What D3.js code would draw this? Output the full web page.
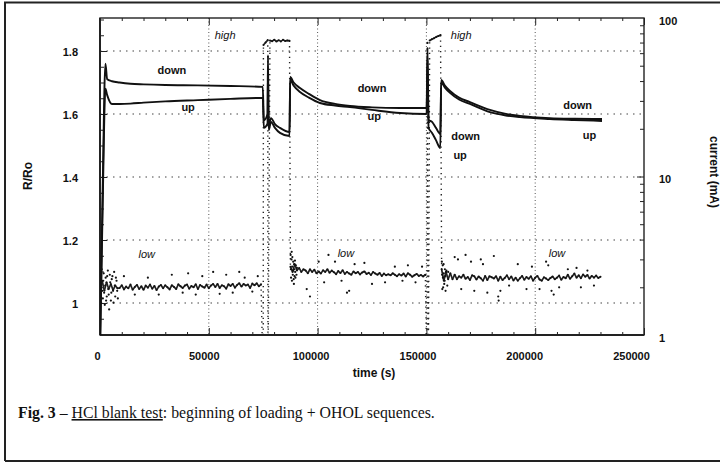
<!DOCTYPE html>
<html>
<head>
<meta charset="utf-8">
<script src="https://cdn.jsdelivr.net/npm/d3@7"></script>
<style>
  html, body { margin: 0; padding: 0; background: #fff; }
  svg { display: block; }
  text { font-family: "Liberation Sans", Arial, Helvetica, sans-serif; fill: #111; }
</style>
</head>
<body>
<svg id="chart" width="720" height="463"></svg>
<script>
// ---------------- DATA ----------------
// Time axis ticks (s)
const xTickLabels = [0, 50000, 100000, 150000, 200000, 250000];
const xGrid = [50000, 100000, 150000, 200000];
// Left axis (R/Ro)
const yLeftLabels = [1, 1.2, 1.4, 1.6, 1.8];
// Right axis (current, mA, log)
const yRightLabels = [1, 10, 100];

// R/Ro curves: time (s), "down" and "up" sensors
const rrTime = [0, 1200, 2500, 3300, 5500, 9000, 14000, 20000, 30000, 45000, 60000, 74800,
  75300, 77000, 77200, 77500, 78600, 80400, 82700, 87100,
  87400, 89000, 91900, 96000, 101100, 108000, 114900, 125000, 137900, 150100,
  150500, 151000, 152600, 154400, 156400,
  156800, 158500, 160850, 165000, 170000, 179200, 186000, 193000, 206800, 218000, 230700];
const rrDown = [0.85, 1.35, 1.76, 1.71, 1.704, 1.70, 1.696, 1.694, 1.692, 1.691, 1.689, 1.686,
  1.58, 1.60, 1.787, 1.565, 1.587, 1.568, 1.556, 1.543,
  1.7175, 1.70, 1.6825, 1.664, 1.6444, 1.632, 1.6254, 1.621, 1.619, 1.619,
  1.81, 1.581, 1.575, 1.556, 1.537,
  1.708, 1.69, 1.673, 1.652, 1.638, 1.613, 1.601, 1.594, 1.587, 1.585, 1.584];
const rrUp = [0.85, 1.30, 1.68, 1.66, 1.632, 1.632, 1.633, 1.636, 1.640, 1.644, 1.648, 1.651,
  1.556, 1.57, 1.74, 1.549, 1.575, 1.556, 1.54, 1.530,
  1.708, 1.69, 1.670, 1.652, 1.635, 1.627, 1.622, 1.613, 1.603, 1.600,
  1.771, 1.556, 1.54, 1.517, 1.492,
  1.70, 1.684, 1.667, 1.646, 1.632, 1.606, 1.596, 1.590, 1.584, 1.581, 1.578];

// Current (mA): main trace, sampled every 1000 s inside each segment
const lowStart1 = 0;
const currentLow1 = [1.85, 2.2, 1.9, 2.15, 1.95, 2.1, 1.92, 2.05, 1.97,
  1.98, 2.06, 1.94, 2.02, 1.97, 2.08, 1.93, 2.01, 2.07, 1.95,
  2.03, 1.93, 2.05, 1.99, 2.08, 1.96, 2.04, 1.92, 2.02, 2.07,
  1.97, 2.06, 2.00, 1.94, 2.06, 2.01, 1.95, 2.09, 2.03, 1.98,
  2.05, 2.08, 1.96, 2.04, 2.00, 2.09, 1.95, 2.07, 2.02, 1.99,
  2.08, 1.97, 2.05, 2.10, 2.01, 2.10, 1.98, 2.06, 2.03, 1.96,
  2.09, 2.04, 2.10, 1.99, 2.07, 2.12, 2.02, 2.10, 2.05, 2.08,
  1.98, 2.11, 2.06, 2.12, 2.03, 2.09];
const highStart1 = 75100;
const currentHigh1 = [67.6, 70.0, 72.6, 72.0, 71.4, 73.0, 71.0, 72.5, 71.2, 72.8, 71.5, 72.2, 71.8];
const lowStart2 = 87500;
const currentLow2 = [2.7, 2.5, 2.8, 2.55, 2.65, 2.5, 2.6, 2.55, 2.45, 2.6,
  2.5, 2.58, 2.45, 2.52, 2.44, 2.56, 2.5, 2.6, 2.47, 2.55,
  2.49, 2.42, 2.53, 2.46, 2.56, 2.43, 2.5, 2.44, 2.4, 2.52,
  2.45, 2.5, 2.41, 2.48, 2.52, 2.43, 2.47, 2.39, 2.5, 2.44,
  2.4, 2.46, 2.36, 2.44, 2.38, 2.42, 2.38, 2.45, 2.4, 2.35,
  2.42, 2.37, 2.44, 2.34, 2.45, 2.4, 2.33, 2.38, 2.43, 2.36,
  2.39, 2.34, 2.4];
const highStart2 = 150500;
const currentHigh2 = [69.9, 72.0, 73.5, 74.5, 76.0, 77.0, 78.0];
const lowStart3 = 157000;
const currentLow3 = [2.6, 2.2, 2.5, 2.25, 2.45, 2.25, 2.4, 2.25, 2.35, 2.3,
  2.4, 2.26, 2.32, 2.22, 2.38, 2.35, 2.24, 2.34, 2.28, 2.2,
  2.36, 2.22, 2.35, 2.31, 2.27, 2.35, 2.2, 2.33, 2.22, 2.29,
  2.38, 2.25, 2.34, 2.21, 2.3, 2.2, 2.28, 2.36, 2.23, 2.32,
  2.26, 2.35, 2.2, 2.3, 2.36, 2.24, 2.2, 2.31, 2.27, 2.22,
  2.29, 2.34, 2.25, 2.3, 2.37, 2.23, 2.32, 2.28, 2.4, 2.26,
  2.35, 2.44, 2.3, 2.38, 2.28, 2.41, 2.33, 2.39, 2.27, 2.36,
  2.3, 2.37, 2.29, 2.33];
// scattered individual current readings [t (s), mA]
const currentDots = [
  [300,2.1],[500,1.6],[800,2.6],[1000,1.9],[1300,1.7],[1500,2.2],[1700,2.45],[1900,1.85],[2200,1.55],
  [2400,2.05],[2600,2.3],[2800,1.65],[3100,1.75],[3300,2.35],[3600,2.55],[3800,1.95],[4000,1.8],
  [4200,1.45],[4500,2.4],[4700,2.15],[5000,1.65],[5200,1.85],[5400,2.25],[5700,2.35],[6000,1.9],
  [6200,1.6],[6500,2.5],[6800,2.05],[7000,1.75],[7300,2.3],[7600,2.2],[7900,1.9],[8200,1.7],
  [11000,2.35],[16000,1.8],[22000,2.3],[27000,1.8],[33000,2.4],[38000,1.85],[40500,2.45],[44000,1.8],
  [47000,2.35],[52000,2.5],[55000,1.82],[58000,2.4],[61000,1.85],[64000,2.5],[66500,2.3],[70000,1.88],[72500,2.35],
  [87600,3.2],[87700,2.6],[87800,2.3],[88000,3.0],[88100,3.35],[88200,2.2],[88300,2.7],[88400,3.1],[88600,2.4],
  [88700,2.55],[88800,2.9],[89000,2.25],[89100,2.1],[89200,2.8],[89300,2.6],[89400,2.35],[89600,2.95],
  [89700,2.5],[89800,2.3],[90000,2.75],[90300,2.4],[90500,2.65],
  [95000,1.95],[96500,1.75],[100500,2.9],[103000,2.15],[105000,3.2],[108000,2.9],[111000,2.2],[113500,1.85],
  [114500,1.9],[117000,2.8],[121500,2.85],[125000,2.1],[131000,2.15],[135500,2.7],[139000,2.2],[141500,2.75],
  [145000,2.15],[148000,2.7],
  [157100,2.9],[157200,2.4],[157300,1.95],[157500,2.75],[157600,2.3],[157700,2.0],[157900,2.8],[158000,2.45],
  [158200,2.1],[158400,2.2],[158500,2.6],[158700,2.35],[158800,1.9],[159000,2.5],[159200,2.55],[159600,2.05],[160000,2.5],
  [163000,3.1],[164500,3.0],[166000,1.95],[168000,3.2],[170500,2.9],[172000,1.9],[175000,3.0],[176000,2.8],
  [178000,1.85],[181000,3.15],[183000,1.75],[183200,1.65],[184000,1.9],[188000,2.05],[192000,2.8],[196000,1.95],
  [198500,2.7],[202000,1.95],[205000,2.9],[206000,2.75],[207500,1.9],[208500,1.8],[211000,2.0],[215000,2.6],
  [219000,2.65],[221000,2.0],[224000,2.55],[227000,2.05]
];
// moments where the supply switches (current reads ~0, off scale)
const switchOffTimes = [75000, 77200, 150300, 150900];
const switchOffValue = 0.5;

// annotation labels
const sensorLabels = [
  {text: "down", t: 33000, v: 1.74}, {text: "up", t: 40500, v: 1.623},
  {text: "down", t: 125000, v: 1.683}, {text: "up", t: 126000, v: 1.593},
  {text: "down", t: 168000, v: 1.53}, {text: "up", t: 165500, v: 1.47},
  {text: "down", t: 219500, v: 1.627}, {text: "up", t: 225000, v: 1.534}
];
const modeLabels = [
  {text: "high", t: 57500, i: 78}, {text: "high", t: 166000, i: 78},
  {text: "low", t: 21500, i: 3.25}, {text: "low", t: 113000, i: 3.3}, {text: "low", t: 210000, i: 3.3}
];

// ---------------- CHART ----------------
const svg = d3.select("#chart");
const L = 100, R = 644, T = 18, B = 335;

const x = d3.scaleLinear().domain([0, 250000]).range([L, R]);
const xLab = d3.scaleLinear().domain([0, 250000]).range([97, 631]);
const yL = d3.scaleLinear().domain([0.8984, 1.9048]).range([B, T]);
const yR = d3.scaleLog().domain([1, 100]).range([B, T]);

// outer figure border
svg.append("path")
  .attr("d", "M5,461 V2.5 H722 M5,461 H722")
  .attr("fill", "none").attr("stroke", "#222").attr("stroke-width", 2);

// clip
svg.append("defs").append("clipPath").attr("id", "clip")
  .append("rect").attr("x", L).attr("y", T).attr("width", R - L).attr("height", B - T);

// grid
const grid = svg.append("g");
grid.selectAll(".hg").data(yLeftLabels).join("line")
  .attr("x1", L).attr("x2", R).attr("y1", d => yL(d)).attr("y2", d => yL(d))
  .attr("stroke", "#444").attr("stroke-width", 1.2).attr("stroke-dasharray", "1.5,5");
grid.selectAll(".vg").data(xGrid).join("line")
  .attr("x1", d => x(d)).attr("x2", d => x(d)).attr("y1", T).attr("y2", B)
  .attr("stroke", "#555").attr("stroke-width", 1).attr("stroke-dasharray", "1,2.5");

// tick marks
function ticks(axisGen, tr) {
  const g = svg.append("g").attr("transform", tr).call(axisGen);
  g.select(".domain").remove();
  g.selectAll("line").attr("stroke", "#222").attr("stroke-width", 1);
  g.selectAll("text").remove();
  return g;
}
const xMinor = d3.range(0, 250001, 10000).filter(d => d % 50000 !== 0);
const xMajor = d3.range(0, 250001, 50000);
ticks(d3.axisBottom(x).tickValues(xMinor).tickSize(-3), `translate(0,${B})`);
ticks(d3.axisBottom(x).tickValues(xMajor).tickSize(-7), `translate(0,${B})`);
ticks(d3.axisTop(x).tickValues(xMinor).tickSize(-3), `translate(0,${T})`);
ticks(d3.axisTop(x).tickValues(xMajor).tickSize(-7), `translate(0,${T})`);
const yMinor = d3.range(0.9, 1.91, 0.05).filter(d => Math.abs(d * 5 - Math.round(d * 5)) > 1e-6);
ticks(d3.axisLeft(yL).tickValues(yMinor).tickSize(-4), `translate(${L},0)`);
ticks(d3.axisLeft(yL).tickValues(yLeftLabels).tickSize(-7), `translate(${L},0)`);
const rMinor = [2,3,4,5,6,7,8,9,20,30,40,50,60,70,80,90];
ticks(d3.axisRight(yR).tickValues(rMinor).tickSize(-4), `translate(${R},0)`);
ticks(d3.axisRight(yR).tickValues([10]).tickSize(-7), `translate(${R},0)`);

// frame
svg.append("rect").attr("x", L).attr("y", T).attr("width", R - L).attr("height", B - T)
  .attr("fill", "none").attr("stroke", "#222").attr("stroke-width", 1.4);
svg.append("line").attr("x1", L).attr("x2", R).attr("y1", B).attr("y2", B)
  .attr("stroke", "#222").attr("stroke-width", 2.2);
svg.append("line").attr("x1", L).attr("x2", L).attr("y1", T).attr("y2", B)
  .attr("stroke", "#222").attr("stroke-width", 2);

// tick labels
function labels(axisGen, tr, dy) {
  const g = svg.append("g").attr("transform", tr).call(axisGen);
  g.select(".domain").remove();
  g.selectAll("line").remove();
  g.selectAll("text").attr("font-size", 11).attr("font-weight", "bold")
    .attr("font-family", "'Liberation Sans', Arial, sans-serif").attr("fill", "#111");
  if (dy) g.selectAll("text").attr("transform", `translate(0,${dy})`);
  return g;
}
labels(d3.axisBottom(xLab).tickValues(xTickLabels).tickSize(0).tickPadding(17).tickFormat(d3.format("d")), `translate(0,${B})`);
labels(d3.axisLeft(yL).tickValues(yLeftLabels).tickSize(0).tickPadding(22).tickFormat(d3.format("~g")), `translate(${L},0)`, 1);
labels(d3.axisRight(yR).tickValues(yRightLabels).tickSize(0).tickPadding(15).tickFormat(d3.format("d")), `translate(${R},0)`, 2.5);

// axis titles
svg.append("text").attr("transform", "translate(32,176) rotate(-90)")
  .attr("text-anchor", "middle").attr("font-size", 12).attr("font-weight", "bold").attr("fill", "#111").text("R/Ro");
svg.append("text").attr("transform", "translate(710,172) rotate(90)")
  .attr("text-anchor", "middle").attr("font-size", 12).attr("font-weight", "bold").attr("fill", "#111").text("current (mA)");
svg.append("text").attr("x", 374).attr("y", 377)
  .attr("text-anchor", "middle").attr("font-size", 12).attr("font-weight", "bold").attr("fill", "#111").text("time (s)");

// data layer
const plot = svg.append("g").attr("clip-path", "url(#clip)");

// current series
const cur = [];
function addSeg(start, vals) { vals.forEach((v, i) => cur.push({t: start + i * 1000, i: v})); }
addSeg(lowStart1, currentLow1);
addSeg(highStart1, currentHigh1);
addSeg(lowStart2, currentLow2);
addSeg(highStart2, currentHigh2);
addSeg(lowStart3, currentLow3);
switchOffTimes.forEach(t => cur.push({t: t, i: switchOffValue}));
cur.sort((a, b) => a.t - b.t);

const segs = [];
for (let k = 1; k < cur.length; k++) segs.push([cur[k - 1], cur[k]]);
const isJump = s => Math.abs(yR(s[0].i) - yR(s[1].i)) > 25;
plot.selectAll(".cs").data(segs.filter(s => !isJump(s))).join("line")
  .attr("x1", s => x(s[0].t)).attr("y1", s => yR(s[0].i))
  .attr("x2", s => x(s[1].t)).attr("y2", s => yR(s[1].i))
  .attr("stroke", "#222").attr("stroke-width", 1.7);
plot.selectAll(".cj").data(segs.filter(isJump)).join("line")
  .attr("x1", s => x(s[0].t)).attr("y1", s => yR(s[0].i))
  .attr("x2", s => x(s[1].t)).attr("y2", s => yR(s[1].i))
  .attr("stroke", "#222").attr("stroke-width", 1.4).attr("stroke-dasharray", "1.3,4");
plot.selectAll(".cp").data(cur).join("circle")
  .attr("cx", d => x(d.t)).attr("cy", d => yR(d.i)).attr("r", 1).attr("fill", "#111");
plot.selectAll(".cd").data(currentDots).join("circle")
  .attr("cx", d => x(d[0])).attr("cy", d => yR(d[1])).attr("r", 1.1).attr("fill", "#111");

// R/Ro lines
const rrLine = vals => d3.line().curve(d3.curveMonotoneX)
  .x((d, k) => x(rrTime[k])).y(d => yL(d))(vals);
plot.append("path").attr("d", rrLine(rrDown)).attr("fill", "none")
  .attr("stroke", "#111").attr("stroke-width", 1.9);
plot.append("path").attr("d", rrLine(rrUp)).attr("fill", "none")
  .attr("stroke", "#111").attr("stroke-width", 1.9);

// annotations
svg.selectAll(".sl").data(sensorLabels).join("text")
  .attr("x", d => x(d.t)).attr("y", d => yL(d.v)).attr("dy", "0.35em")
  .attr("text-anchor", "middle").attr("font-size", 11).attr("font-weight", "bold").attr("fill", "#111")
  .text(d => d.text);
svg.selectAll(".ml").data(modeLabels).join("text")
  .attr("x", d => x(d.t)).attr("y", d => yR(d.i)).attr("dy", "0.35em")
  .attr("text-anchor", "middle").attr("font-size", 11).attr("font-style", "italic").attr("fill", "#111")
  .text(d => d.text);

// caption
const cap = svg.append("text").attr("x", 18).attr("y", 418).attr("fill", "#000")
  .attr("font-size", 15.8)
  .style("font-family", "'Liberation Serif', 'Times New Roman', serif");
cap.append("tspan").attr("font-weight", "bold").text("Fig. 3");
cap.append("tspan").text(" \u2013 ");
cap.append("tspan").style("text-decoration", "underline").text("HCl blank test");
cap.append("tspan").text(": beginning of loading + OHOL sequences.");
</script>
</body>
</html>
